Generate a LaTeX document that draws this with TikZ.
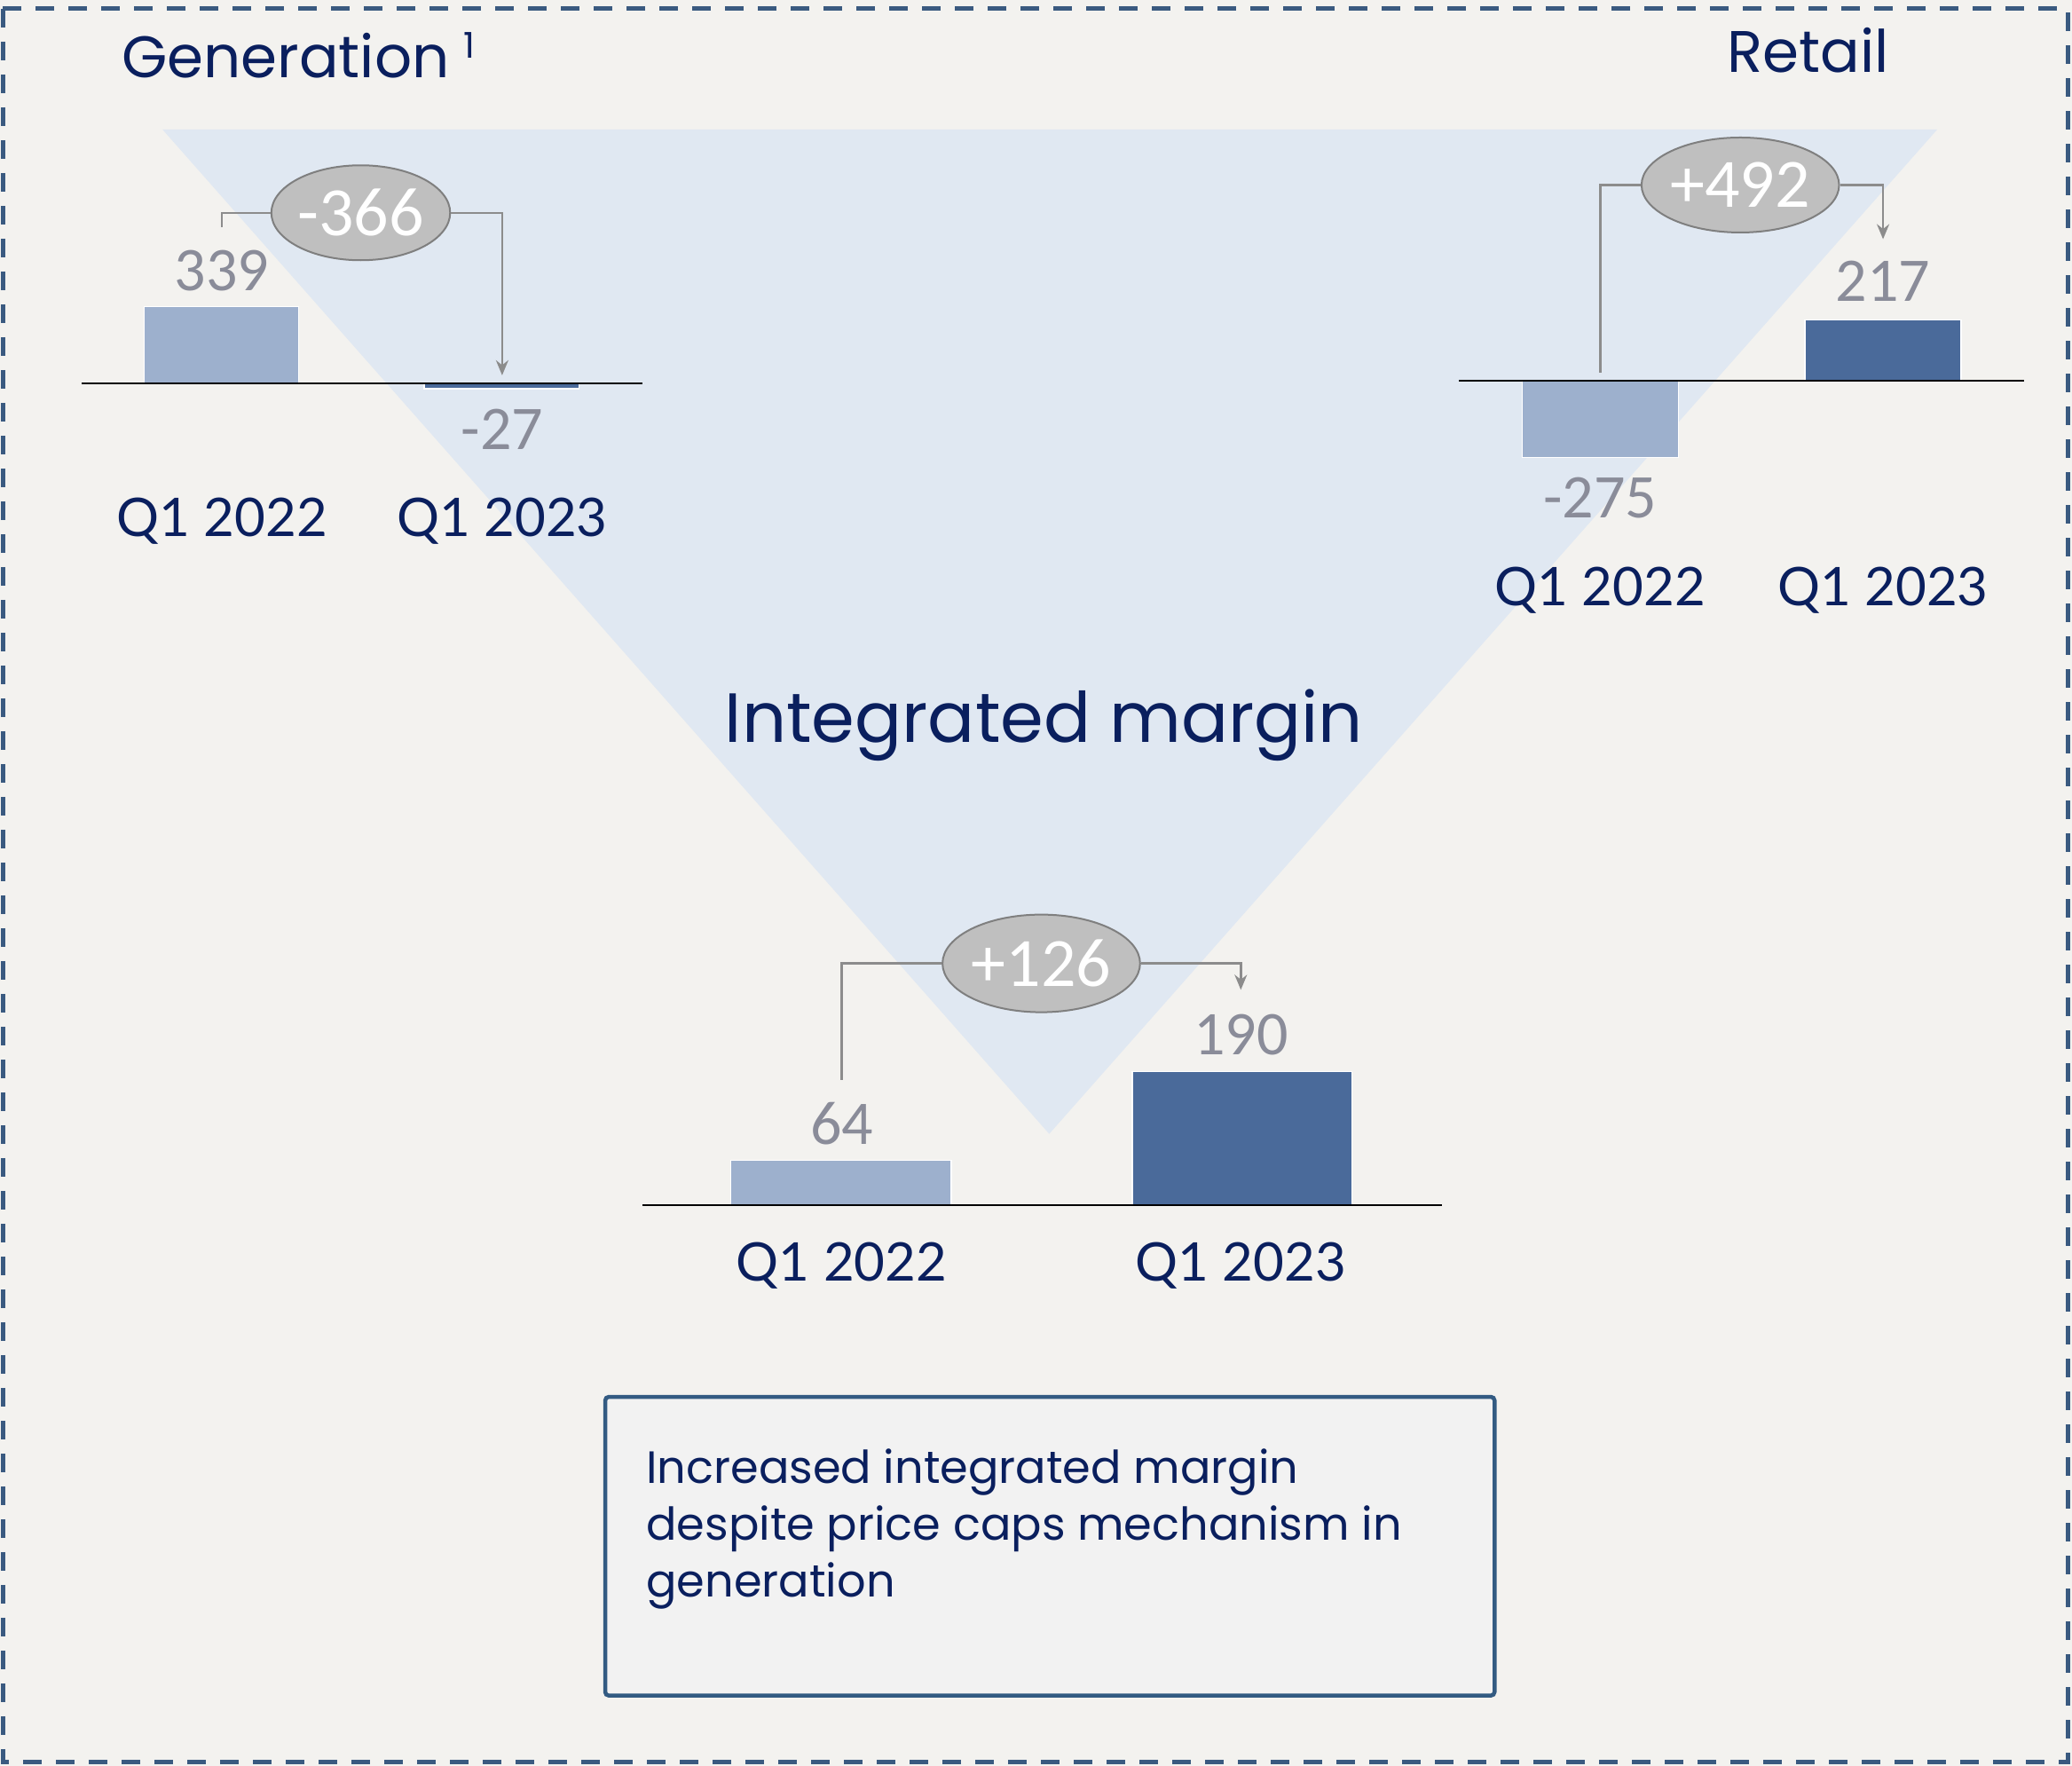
\documentclass[tikz,border=0pt]{standalone}
\usepackage{fontspec}
\setmainfont{Lato}
\newfontfamily\headfont{Poppins}
\newfontfamily\numfont{Carlito}
\usetikzlibrary{shapes.geometric,arrows.meta}
\definecolor{bg}{HTML}{F3F2EF}
\definecolor{tri}{HTML}{E0E8F2}
\definecolor{navy}{HTML}{0A1F5E}
\definecolor{numgray}{HTML}{8A8C99}
\definecolor{lightbar}{HTML}{9DB0CD}
\definecolor{darkbar}{HTML}{4A6A9A}
\definecolor{bordercol}{HTML}{3A5A80}
\definecolor{ellfill}{HTML}{BFBFBF}
\definecolor{ellline}{HTML}{7F7F7F}
\definecolor{conn}{HTML}{8C8C8C}
\definecolor{boxfill}{HTML}{F2F2F2}
\definecolor{boxline}{HTML}{335B82}
\begin{document}
\begin{tikzpicture}[x=1.4892pt,y=-1.4892pt,
 qlabel/.style={font=\fontsize{60}{72}\selectfont, text=navy, inner sep=0, anchor=base},
 numlabel/.style={font=\numfont\fontsize{70}{84}\selectfont, text=numgray, inner sep=0, anchor=base},
 delta/.style={ellipse, fill=ellfill, draw=ellline, line width=2pt, minimum height=107pt, inner sep=0, text=white, font=\numfont\fontsize{78}{90}\selectfont},
 connector/.style={draw=conn, line width=2.5pt},
 arrowconn/.style={connector, -{Stealth[length=17pt,width=14pt]}},
 lbar/.style={fill=lightbar, draw=white, line width=1.5pt},
 dbar/.style={fill=darkbar, draw=white, line width=1.5pt},
 axisline/.style={draw=black, line width=2pt},
 heading/.style={font=\headfont\fontsize{66}{80}\selectfont, text=navy, inner sep=0, anchor=base west}
]
\useasboundingbox (0,0) rectangle (1568,1336);
\fill[bg] (0,0) rectangle (1568,1336);
\draw[bordercol, line width=5pt, dash pattern=on 21pt off 16pt] (2.2,6.7) rectangle (1565,1333);
\fill[tri] (123,98) -- (1466,98) -- (794,858) -- cycle;

% Generation
\node[heading] (gentitle) at (92,58.5) {Generation\hspace{0.24em}\raisebox{0.32em}{\fontsize{40}{44}\selectfont 1}};
\fill[lbar] (109,232) rectangle (226,290);
\fill[dbar] (321,290) rectangle (438,294);
\draw[axisline] (62,290) -- (486,290);
\node[numlabel] (g339) at (168,220) {339};
\node[numlabel] (gm27) at (380,340) {-27};
\node[qlabel] (gq22) at (168,406) {Q1 2022};
\node[qlabel] (gq23) at (380,406) {Q1 2023};
\node[delta, minimum width=197pt] (gdelta) at (273,161) {-366};
\coordinate (gstart) at (168,172);
\coordinate (gend) at (380,284);
\draw[connector] (gstart) |- (gdelta.west);
\draw[arrowconn] (gdelta.east) -| (gend);

% Retail
\node[heading] (rettitle) at (1307,55) {Retail};
\fill[lbar] (1152,288) rectangle (1270,346);
\fill[dbar] (1366,242) rectangle (1484,288);
\draw[axisline] (1104,288) -- (1532,288);
\node[numlabel] (rm275) at (1211,392) {-275};
\node[numlabel] (r217) at (1425,228) {217};
\node[qlabel] (rq22) at (1211,458) {Q1 2022};
\node[qlabel] (rq23) at (1425,458) {Q1 2023};
\node[delta, minimum width=216pt] (rdelta) at (1317,140) {+492};
\coordinate (rstart) at (1211,282);
\coordinate (rend) at (1425,181);
\draw[connector] (rstart) |- (rdelta.west);
\draw[arrowconn] (rdelta.east) -| (rend);

% Integrated margin
\node[font=\headfont\fontsize{78.5}{90}\selectfont, text=navy, inner sep=0, anchor=base] (inttitle) at (790,562) {Integrated margin};
\fill[lbar] (553,878) rectangle (720,912);
\fill[dbar] (857,811) rectangle (1023,912);
\draw[axisline] (486,912) -- (1091,912);
\node[numlabel] (i64) at (637,866) {64};
\node[numlabel] (i190) at (939,798) {190};
\node[qlabel] (iq22) at (637,969) {Q1 2022};
\node[qlabel] (iq23) at (939,969) {Q1 2023};
\node[delta, minimum width=197pt, minimum height=110pt] (idelta) at (788,729) {+126};
\coordinate (istart) at (637,817);
\coordinate (iend) at (939,749);
\draw[connector] (istart) |- (idelta.west);
\draw[arrowconn] (idelta.east) -| (iend);

% Text box
\draw[boxline, fill=boxfill, line width=4.5pt, rounded corners=4pt] (458,1057) rectangle (1131,1283);
\node[anchor=north west, inner sep=0, align=left, font=\headfont\fontsize{51}{64}\selectfont, text=navy] (boxtext) at (489,1096) {Increased integrated margin\\despite price caps mechanism in\\generation};
\end{tikzpicture}
\end{document}
